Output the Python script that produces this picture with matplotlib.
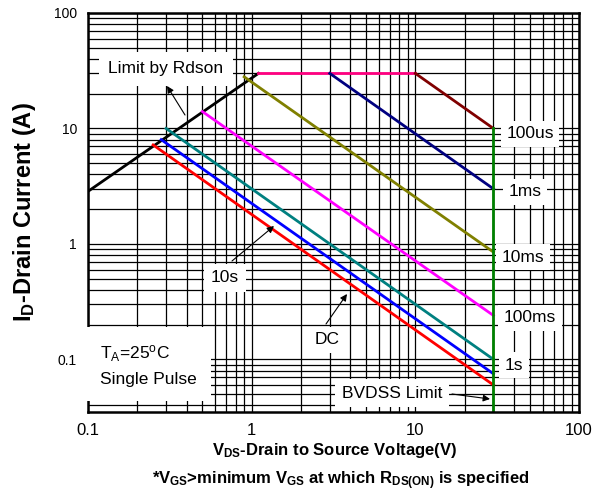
import matplotlib
matplotlib.use("Agg")
import matplotlib.pyplot as plt
from matplotlib.ticker import LogLocator, FixedLocator, FixedFormatter, NullFormatter

plt.rcParams['font.family'] = ['Liberation Sans', 'DejaVu Sans']
plt.rcParams['mathtext.fontset'] = 'custom'
plt.rcParams['mathtext.rm'] = 'Liberation Sans'
plt.rcParams['mathtext.bf'] = 'Liberation Sans:bold'
plt.rcParams['mathtext.it'] = 'Liberation Sans:italic'

# safe operating area curves (V_DS, I_D) end points
rdson_v = [0.1, 1.1]
rdson_i = [2.85, 30]
limit_v = [1.1, 10]
limit_i = [30, 30]
us100_v = [10, 30]
us100_i = [30, 10]
ms1_v = [3, 30]
ms1_i = [30, 3]
ms10_v = [0.9, 30]
ms10_i = [28, 0.85]
ms100_v = [0.5, 30]
ms100_i = [14, 0.24]
s1_v = [0.3, 30]
s1_i = [10, 0.1]
s10_v = [0.28, 30]
s10_i = [8, 0.075]
dc_v = [0.25, 30]
dc_i = [7.2, 0.06]
bvdss_v = [30, 30]
bvdss_i = [10, 0.035]

x_ticks = [0.1, 1, 10, 100]
x_labels = ["0.1", "1", "10", "100"]
y_ticks = [0.1, 1, 10, 100]
y_labels = ["0.1", "1", "10", "100"]

W, H = 603, 497
AX_L, AX_R, AX_T, AX_B = 88, 579, 13, 412


def fr(px, py):
    """pixel position in the picture -> axes fraction"""
    return ((px - AX_L) / (AX_R - AX_L), (AX_B - py) / (AX_B - AX_T))


fig = plt.figure(figsize=(W / 100, H / 100), dpi=100)
ax = fig.add_axes([AX_L / W, 1 - AX_B / H, (AX_R - AX_L) / W, (AX_B - AX_T) / H])
ax.set_xscale('log')
ax.set_yscale('log')
ax.set_xlim(0.1, 100)
ax.set_ylim(0.035, 100)

ax.xaxis.set_major_locator(FixedLocator(x_ticks))
ax.xaxis.set_major_formatter(FixedFormatter(x_labels))
ax.yaxis.set_major_locator(FixedLocator(y_ticks))
ax.yaxis.set_major_formatter(FixedFormatter(y_labels))
ax.xaxis.set_minor_locator(LogLocator(base=10, subs=range(2, 10)))
ax.yaxis.set_minor_locator(LogLocator(base=10, subs=range(2, 10)))
ax.xaxis.set_minor_formatter(NullFormatter())
ax.yaxis.set_minor_formatter(NullFormatter())
ax.grid(True, which='both', color='black', linewidth=0.9)
ax.set_axisbelow(True)
ax.tick_params(which='both', direction='in', length=0)
ax.tick_params(axis='x', labelsize=12, pad=8)
ax.tick_params(axis='y', labelsize=10, pad=8)
for s in ax.spines.values():
    s.set_linewidth(1.8)

lw = 2
ax.plot(rdson_v, rdson_i, color='black', lw=lw)
ax.plot(limit_v, limit_i, color='#FF0080', lw=lw)
ax.plot(us100_v, us100_i, color='#800000', lw=lw)
ax.plot(ms1_v, ms1_i, color='#000080', lw=lw)
ax.plot(ms10_v, ms10_i, color='#808000', lw=lw)
ax.plot(ms100_v, ms100_i, color='#FF00FF', lw=lw)
ax.plot(s1_v, s1_i, color='#008080', lw=lw)
ax.plot(s10_v, s10_i, color='#0000FF', lw=lw)
ax.plot(dc_v, dc_i, color='#FF0000', lw=lw)
ax.plot(bvdss_v, bvdss_i, color='#008000', lw=lw)

labels = [
    ("Limit by Rdson", 166, 69, 7),
    ("100us", 530, 134, 4),
    ("1ms", 525, 192, 4),
    ("10ms", 523, 257, 4),
    ("100ms", 530, 318, 4),
    ("1s", 514, 365, 4),
    ("BVDSS Limit", 392, 393, 5),
    ("DC", 327, 340, 4),
    ("10s", 225, 278, 5),
]
for txt, px, py, pad in labels:
    ax.text(*fr(px, py), txt, transform=ax.transAxes, fontsize=12.5,
            ha='center', va='center', zorder=5,
            bbox=dict(facecolor='white', edgecolor='none', pad=pad))

# temperature box
ax.text(*fr(100, 365), "T$_\\mathregular{A}$=25$^\\mathregular{o}$C\nSingle Pulse",
        transform=ax.transAxes, fontsize=12.5, ha='left', va='center',
        linespacing=1.7, zorder=5,
        bbox=dict(facecolor='white', edgecolor='none', pad=10))

arrows = [
    ((185, 115), (167, 86)),
    ((232, 261), (274, 226)),
    ((326, 324), (347, 294)),
    ((452, 394), (490, 399)),
]
for tail, head in arrows:
    ax.annotate("", xy=fr(*head), xytext=fr(*tail), xycoords='axes fraction',
                textcoords='axes fraction', zorder=6,
                arrowprops=dict(arrowstyle='-|>', color='black', lw=0.8,
                                mutation_scale=10, shrinkA=0, shrinkB=0))

fig.text(335 / W, 1 - 450 / H, "V$_\\mathbf{DS}$-Drain to Source Voltage(V)",
         fontsize=12, fontweight='bold', ha='center', va='center')
fig.text(341 / W, 1 - 481 / H,
         "*V$_\\mathbf{GS}$>minimum V$_\\mathbf{GS}$ at which R$_\\mathbf{DS(ON)}$ is specified",
         fontsize=12, fontweight='bold', ha='center', va='center')
fig.text(25 / W, 1 - 212 / H, "I$_\\mathbf{D}$-Drain Current (A)",
         fontsize=17, fontweight='bold', ha='center', va='center', rotation=90)

fig.savefig("out.png", dpi=100)
